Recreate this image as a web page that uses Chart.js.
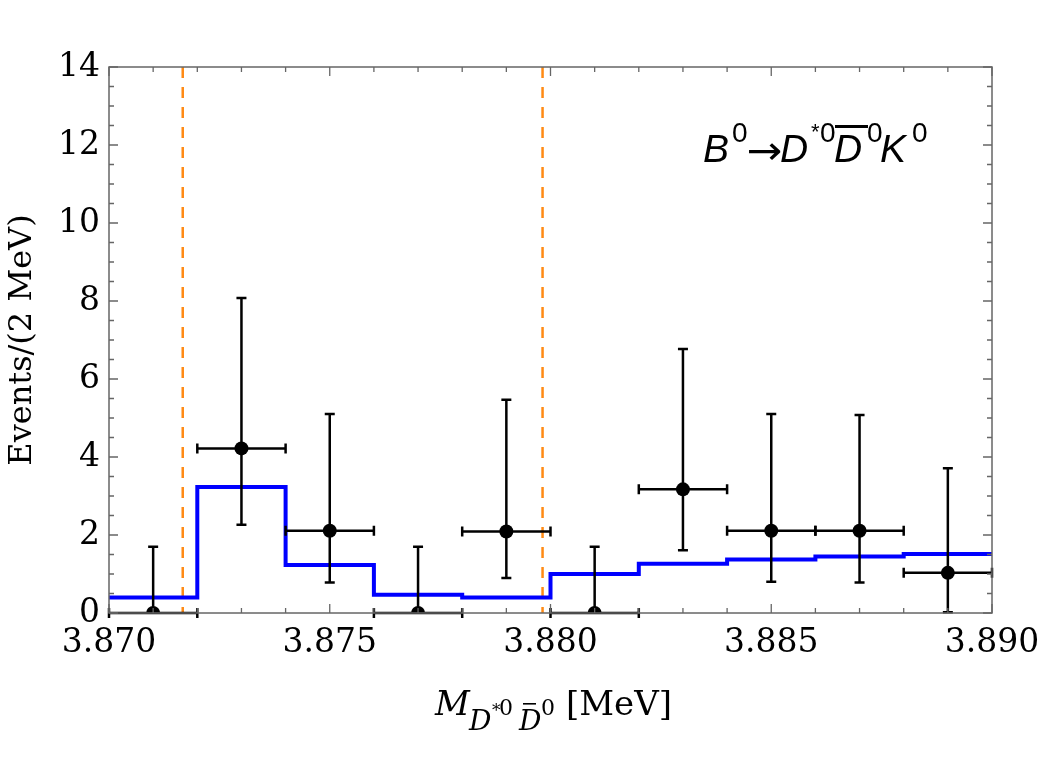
<!DOCTYPE html>
<html>
<head>
<meta charset="utf-8">
<script src="https://cdn.jsdelivr.net/npm/chart.js@4.4.1/dist/chart.umd.min.js"></script>
<style>
html,body{margin:0;padding:0;background:#fff;}
#c{display:block;}
</style>
</head>
<body>
<canvas id="c" width="1042" height="784"></canvas>
<script>
// ---- data ----
const binCenters = [3.871, 3.873, 3.875, 3.877, 3.879, 3.881, 3.883, 3.885, 3.887, 3.889];
const binEdges   = [3.870, 3.872, 3.874, 3.876, 3.878, 3.880, 3.882, 3.884, 3.886, 3.888, 3.890];
const counts      = [0, 4.22, 2.11, 0, 2.09, 0, 3.17, 2.11, 2.11, 1.03];
const lowerBounds = [0, 2.26, 0.78, 0, 0.90, 0, 1.61, 0.80, 0.78, 0.02];
const upperBounds = [1.70, 8.08, 5.10, 1.70, 5.47, 1.70, 6.77, 5.10, 5.08, 3.71];
const fitValues   = [0.40, 3.23, 1.23, 0.47, 0.40, 1.00, 1.26, 1.37, 1.45, 1.51];
const thresholds  = [3.87167, 3.87982];
const xTickValues = [3.870, 3.875, 3.880, 3.885, 3.890];
const xTickLabels = ['3.870', '3.875', '3.880', '3.885', '3.890'];
const yTickValues = [0, 2, 4, 6, 8, 10, 12, 14];
const yTickLabels = ['0', '2', '4', '6', '8', '10', '12', '14'];
const xMin = 3.870, xMax = 3.890, yMin = 0, yMax = 14;
const xMinorStep = 0.001, yMinorStep = 0.5;

const SERIF = '"DejaVu Serif", serif';
const SANS = '"Liberation Sans", Arial, sans-serif';

const errorBars = {
  id: 'errorBars',
  beforeDatasetDraw(chart, args) {
    if (args.index !== 0) return;
    const {ctx, scales: {x, y}} = chart;
    ctx.save();
    ctx.strokeStyle = '#000';
    ctx.lineWidth = 2.5;
    const cap = 5;
    binCenters.forEach((c, i) => {
      const px = x.getPixelForValue(c);
      const py = y.getPixelForValue(counts[i]);
      const xl = x.getPixelForValue(binEdges[i]);
      const xr = x.getPixelForValue(binEdges[i + 1]);
      const yl = y.getPixelForValue(lowerBounds[i]);
      const yu = y.getPixelForValue(upperBounds[i]);
      ctx.beginPath();
      ctx.moveTo(xl, py); ctx.lineTo(xr, py);
      ctx.moveTo(xl, py - cap); ctx.lineTo(xl, py + cap);
      ctx.moveTo(xr, py - cap); ctx.lineTo(xr, py + cap);
      ctx.moveTo(px, yl); ctx.lineTo(px, yu);
      ctx.moveTo(px - cap, yu); ctx.lineTo(px + cap, yu);
      if (lowerBounds[i] > 0) { ctx.moveTo(px - cap, yl); ctx.lineTo(px + cap, yl); }
      ctx.stroke();
    });
    ctx.restore();
  }
};

const frameTicks = {
  id: 'frameTicks',
  afterDraw(chart) {
    const {ctx, chartArea: a, scales: {x, y}} = chart;
    ctx.save();
    ctx.strokeStyle = '#666';
    ctx.lineWidth = 1.5;
    ctx.strokeRect(a.left, a.top, a.right - a.left, a.bottom - a.top);
    ctx.lineWidth = 1.3;
    ctx.beginPath();
    const nx = Math.round((xMax - xMin) / xMinorStep);
    for (let k = 0; k <= nx; k++) {
      const v = xMin + k * xMinorStep;
      const major = k % 5 === 0;
      const L = major ? 9 : 5;
      const px = x.getPixelForValue(v);
      ctx.moveTo(px, a.bottom); ctx.lineTo(px, a.bottom - L);
      ctx.moveTo(px, a.top); ctx.lineTo(px, a.top + L);
    }
    const ny = Math.round((yMax - yMin) / yMinorStep);
    for (let k = 0; k <= ny; k++) {
      const v = yMin + k * yMinorStep;
      const major = k % 4 === 0;
      const L = major ? 9 : 5;
      const py = y.getPixelForValue(v);
      ctx.moveTo(a.left, py); ctx.lineTo(a.left + L, py);
      ctx.moveTo(a.right, py); ctx.lineTo(a.right - L, py);
    }
    ctx.stroke();
    ctx.restore();

    // x-axis title: M_{D*0 D̄0} [MeV]
    ctx.save();
    ctx.fillStyle = '#000';
    ctx.textBaseline = 'alphabetic';
    const base = 715;
    ctx.font = 'italic 34px ' + SERIF;
    ctx.fillText('M', 435, base);
    ctx.font = 'italic 28px ' + SERIF;
    ctx.fillText('D', 469, 730);
    ctx.font = '17px ' + SERIF;
    ctx.fillText('*', 492, 716);
    ctx.font = '22px ' + SERIF;
    ctx.fillText('0', 499, base);
    ctx.font = 'italic 28px ' + SERIF;
    ctx.fillText('D', 519, 730);
    ctx.fillRect(523, 703, 13, 1.6);
    ctx.font = '22px ' + SERIF;
    ctx.fillText('0', 541, base);
    ctx.font = '34px ' + SERIF;
    ctx.fillText('[MeV]', 566, base);
    ctx.restore();

    // annotation B0 -> D*0 D̄0 K0
    ctx.save();
    ctx.fillStyle = '#000';
    const ab = 162;
    const supY = ab - 20;
    const big = 'italic 39px ' + SANS;
    const sup = '28px ' + SANS;
    ctx.font = big; ctx.fillText('B', 703, ab);
    ctx.font = sup; ctx.fillText('0', 732, supY);
    ctx.save();
    ctx.font = '36px "DejaVu Sans", sans-serif';
    const aw = ctx.measureText('\u2192').width;
    ctx.translate(748, ab + 2);
    ctx.scale(34 / aw * 1.05, 1.1);
    ctx.fillText('\u2192', -1, 0);
    ctx.restore();
    ctx.font = big; ctx.fillText('D', 780, ab);
    ctx.font = '22px ' + SANS; ctx.fillText('*', 811, supY - 3);
    ctx.font = sup; ctx.fillText('0', 820, supY);
    ctx.font = big; ctx.fillText('D', 834, ab);
    ctx.fillRect(835, 125, 33, 3);
    ctx.font = sup; ctx.fillText('0', 867, supY);
    ctx.font = big; ctx.fillText('K', 880, ab);
    ctx.font = sup; ctx.fillText('0', 912, supY);
    ctx.restore();
  }
};

const histData = binEdges.slice(0, -1).map((e, i) => ({x: e, y: fitValues[i]}));
histData.push({x: binEdges[binEdges.length - 1], y: fitValues[fitValues.length - 1]});

new Chart(document.getElementById('c'), {
  type: 'scatter',
  data: {
    datasets: [
      {
        type: 'scatter',
        data: binCenters.map((c, i) => ({x: c, y: counts[i]})),
        pointRadius: 7,
        pointHoverRadius: 7,
        backgroundColor: '#000',
        borderWidth: 0,
        clip: 0
      },
      {
        type: 'line',
        data: histData,
        stepped: 'before',
        borderColor: '#0000ff',
        borderWidth: 4,
        pointRadius: 0,
        fill: false
      },
      ...thresholds.map(t => ({
        type: 'line',
        data: [{x: t, y: yMax}, {x: t, y: yMin}],
        borderColor: '#ff8a14',
        borderWidth: 2.5,
        borderDash: [11, 9],
        pointRadius: 0,
        fill: false
      }))
    ]
  },
  options: {
    responsive: false,
    animation: false,
    events: [],
    layout: {padding: {left: 0, top: 67, right: 50, bottom: 0}},
    plugins: {legend: {display: false}, tooltip: {enabled: false}},
    scales: {
      x: {
        type: 'linear', min: xMin, max: xMax,
        afterBuildTicks: s => { s.ticks = xTickValues.map(v => ({value: v})); },
        afterFit: s => { s.height = 171; s.paddingLeft = 0; s.paddingRight = 0; },
        ticks: {
          callback: (v, i) => xTickLabels[i],
          font: {family: SERIF, size: 33},
          color: '#000', padding: 11, maxRotation: 0, autoSkip: false
        },
        grid: {display: false, drawTicks: false},
        border: {display: false}
      },
      y: {
        type: 'linear', min: yMin, max: yMax,
        afterBuildTicks: s => { s.ticks = yTickValues.map(v => ({value: v})); },
        afterFit: s => { s.width = 109; s.paddingTop = 0; s.paddingBottom = 0; },
        ticks: {
          callback: (v, i) => yTickLabels[i],
          font: {family: SERIF, size: 33},
          color: '#000', padding: 9, autoSkip: false
        },
        grid: {display: false, drawTicks: false},
        border: {display: false},
        title: {
          display: true, text: 'Events/(2 MeV)',
          font: {family: SERIF, size: 32}, color: '#000',
          padding: {top: 3, bottom: 0}
        }
      }
    }
  },
  plugins: [errorBars, frameTicks]
});
</script>
</body>
</html>
